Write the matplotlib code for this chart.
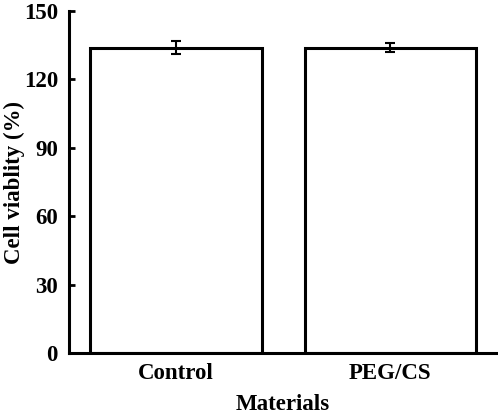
import numpy as np
import matplotlib.pyplot as plt

plt.rcParams['font.family'] = ['Liberation Serif', 'DejaVu Serif']
plt.rcParams['font.weight'] = 'bold'

materials = ['Control', 'PEG/CS']
viability = [134, 134]
errors = [3.0, 1.8]

fig = plt.figure(figsize=(4.98, 4.17), dpi=100)
ax = fig.add_axes([0.1386, 0.1535, 0.86, 0.820])

x = np.arange(len(materials))
ax.bar(x, viability, width=0.8, color='white', edgecolor='black', linewidth=2.2,
       yerr=errors, capsize=3.5, error_kw=dict(elinewidth=1.5, capthick=1.5, ecolor='black'))

ax.set_xlim(-0.5, 1.5)
ax.set_ylim(0, 150)
ax.set_yticks([0, 30, 60, 90, 120, 150])
ax.set_xticks(x)
ax.set_xticklabels(materials)
ax.tick_params(axis='y', direction='in', length=4, width=2, labelsize=16.5, pad=8)
ax.tick_params(axis='x', length=0, labelsize=16.5, pad=7)
for s in ['top', 'right']:
    ax.spines[s].set_visible(False)
for s in ['left', 'bottom']:
    ax.spines[s].set_linewidth(2.2)

ax.set_ylabel('Cell viablity (%)', fontsize=16.5, fontweight='bold', va='center')
ax.set_xlabel('Materials', fontsize=16.5, fontweight='bold', va='center')
ax.yaxis.set_label_coords(-0.128, 0.5)
ax.xaxis.set_label_coords(0.5, -0.152)

plt.savefig('out.png', dpi=100)
